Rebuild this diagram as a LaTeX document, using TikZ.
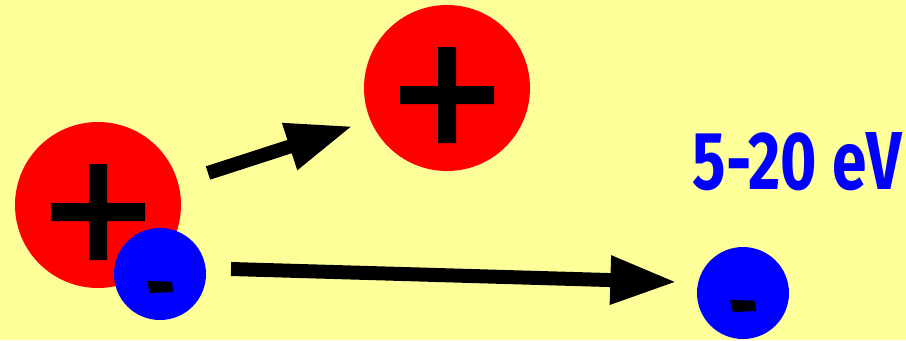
\documentclass[tikz,border=0pt]{standalone}
\usepackage{fontspec}
\setsansfont{Fira Sans}
\usepackage{graphicx}
\usepackage{xcolor}
\definecolor{bgyellow}{RGB}{255,255,153}
\definecolor{ionred}{RGB}{255,0,0}
\definecolor{elblue}{RGB}{0,0,255}
\usetikzlibrary{arrows.meta}

\tikzset{
  ion/.style={circle, fill=ionred, minimum size=124.5pt, inner sep=0pt},
  electron/.style={circle, fill=elblue, minimum size=69pt, inner sep=0pt},
  flight/.style={line width=10.5pt, -{Triangle[length=50pt, width=34pt]}},
}
\newcommand{\plusmark}[1]{\fill[shift={(#1)}] (-47,-2) rectangle (47,16) (-9,-41) rectangle (9,55);}
\newcommand{\minusmark}[1]{\fill[shift={(#1)}] (-13,7) -- (12,7.7) -- (13,18) -- (-10,19) -- cycle;}

\begin{document}
\begin{tikzpicture}[x=0.75pt, y=-0.75pt]
  \fill[bgyellow] (0,0) rectangle (906,340);
  \useasboundingbox (0,0) rectangle (906,340);

  % Bound pair
  \node[ion] (ionA) at (98,205) {};
  \plusmark{ionA}
  \node[electron] (elA) at (160,274) {};
  \minusmark{elA}

  % Separated ion and electron
  \node[ion] (ionB) at (447,88) {};
  \plusmark{ionB}
  \node[electron] (elB) at (743,293) {};
  \minusmark{elB}

  % Energy label
  \node[inner sep=0pt, text=elblue, font=\sffamily\bfseries] (energy) at (797.5,161.5)
    {\resizebox{156.75pt}{42.75pt}{5-20 eV}};

  % Flight paths
  \coordinate (tailA) at (208,173);
  \coordinate (tipA) at (353,126);
  \coordinate (tailB) at (231,269);
  \coordinate (tipB) at (677,282);
  \draw[flight] (tailA) -- (tipA);
  \draw[flight] (tailB) -- (tipB);
\end{tikzpicture}
\end{document}
